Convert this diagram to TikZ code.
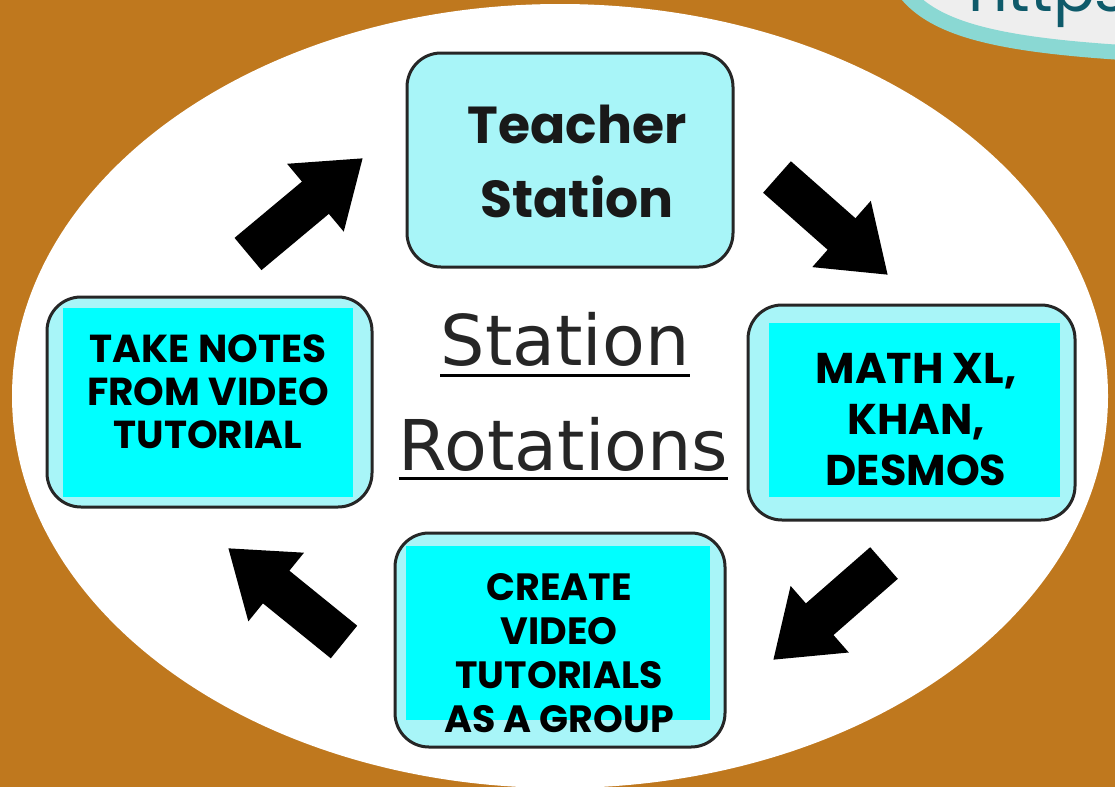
\documentclass[tikz,border=0pt]{standalone}
\usepackage{fontspec}
\usetikzlibrary{arrows.meta}
\newfontfamily\boxfont{Poppins}
\newfontfamily\handfont{DejaVu Sans}
\definecolor{bgbrown}{HTML}{BF781E}
\definecolor{boxcyan}{HTML}{A8F5F8}
\definecolor{tagcyan}{HTML}{00FFFF}
\definecolor{tealrim}{HTML}{8AD8D3}
\definecolor{tealtext}{HTML}{0E5A6A}
\definecolor{paper}{HTML}{EEEEEE}
\tikzset{
  station/.style={draw=black!85, line width=3pt, rounded corners=34pt, fill=boxcyan, inner sep=0pt},
  tag/.style={fill=tagcyan, inner sep=0pt},
  tagtext/.style={align=center, anchor=base, inner sep=0pt, text=black,
    font=\boxfont\bfseries\fontsize{38}{44}\selectfont},
  turn/.style={line width=42pt, -{Triangle[length=62pt, width=84pt]}},
  title/.style={anchor=base, inner sep=0pt, text=black!85, font=\handfont\fontsize{70}{70}\selectfont},
}
\begin{document}
\begin{tikzpicture}[x=1pt, y=-1pt]
    \useasboundingbox (0,0) rectangle (1115,787);
    \clip (0,0) rectangle (1115,787);
    \fill[bgbrown] (0,0) rectangle (1115,787);
    \fill[white] (560,396) ellipse [x radius=548, y radius=392];
    % corner of the page behind
    \filldraw[fill=paper, draw=tealrim, line width=15pt] (905,-8) .. controls (935,30) and (1000,45) .. (1130,53) -- (1130,-20) -- (905,-20) -- cycle;
    \node[anchor=base west, inner sep=0pt, text=tealtext, font=\boxfont\fontsize{62}{62}\selectfont] (url) at (968,12) {https};
    % stations
    \node[station, minimum width=326pt, minimum height=214pt] (teach) at (570,160) {};
    \node[station, minimum width=327pt, minimum height=215pt] (online) at (911.5,412.5) {};
    \node[station, minimum width=325pt, minimum height=210pt] (notes) at (209.5,402) {};
    \node[station, minimum width=330pt, minimum height=214pt] (create) at (560,640) {};
    \node[tag, minimum width=291pt, minimum height=174pt] (onlinetag) at (914.5,410) {};
    \node[tag, minimum width=290pt, minimum height=189pt] (notestag) at (208,402.5) {};
    \node[tag, minimum width=304pt, minimum height=174pt] (createtag) at (558,633) {};
    % texts (base = last line)
    \node[tagtext, font=\boxfont\bfseries\fontsize{52}{74}\selectfont, text=black!90] (teachtext) at (577,217) {Teacher\\Station};
    \node[tagtext, font=\boxfont\bfseries\fontsize{43}{51}\selectfont] (onlinetext) at (916,485) {MATH XL,\\KHAN,\\DESMOS};
    \node[tagtext, font=\boxfont\bfseries\fontsize{39}{43}\selectfont] (notestext) at (208,448) {TAKE NOTES\\FROM VIDEO\\TUTORIAL};
    \node[tagtext] (createtext) at (559,732) {CREATE\\VIDEO\\TUTORIALS\\AS A GROUP};
    % title
    \node[title] (ttl1) at (565,365) {Station};
    \node[title] (ttl2) at (563.5,470) {Rotations};
    \draw[line width=3pt] ([yshift=-10pt]ttl1.base west) -- ([yshift=-10pt]ttl1.base east);
    \draw[line width=3pt] ([yshift=-8pt]ttl2.base west) -- ([yshift=-8pt]ttl2.base east);
    % arrows
    \coordinate (a1) at (248,254); \coordinate (b1) at (363,158);
    \coordinate (a2) at (777,177); \coordinate (b2) at (888,275);
    \coordinate (a3) at (884,563); \coordinate (b3) at (773,660);
    \coordinate (a4) at (344,642); \coordinate (b4) at (228,548);
    \draw[turn] (a1) -- (b1);
    \draw[turn] (a2) -- (b2);
    \draw[turn] (a3) -- (b3);
    \draw[turn] (a4) -- (b4);
\end{tikzpicture}
\end{document}
